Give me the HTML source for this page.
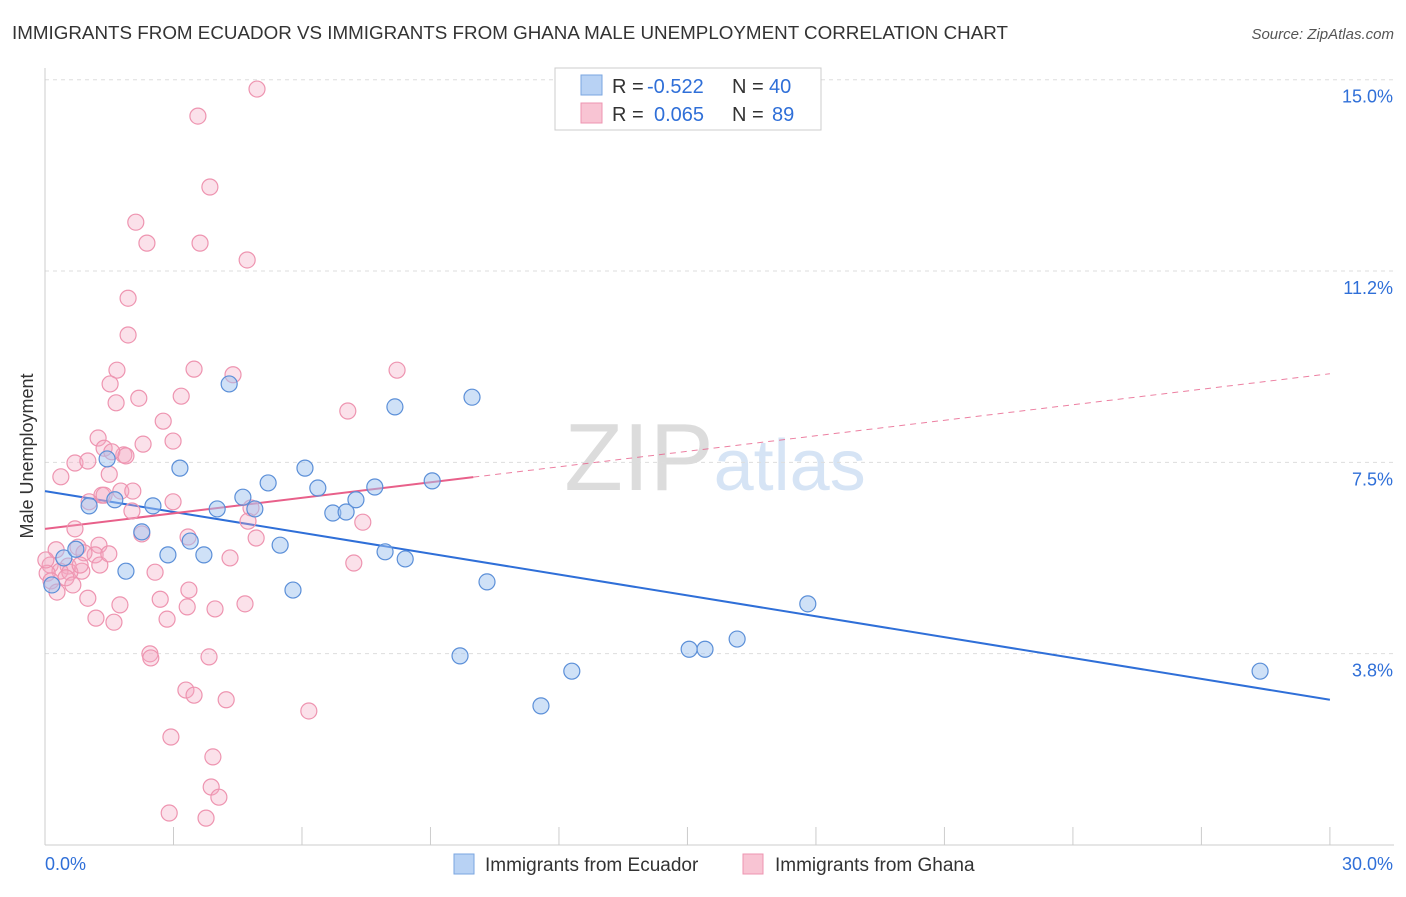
<!DOCTYPE html>
<html><head><meta charset="utf-8"><style>
body{margin:0;background:#fff;font-family:"Liberation Sans",sans-serif;}
svg text{font-family:"Liberation Sans",sans-serif;}
</style></head><body>
<svg id="chart" width="1406" height="892" xmlns="http://www.w3.org/2000/svg">
<text x="12" y="39" font-size="18" fill="#333" textLength="996" lengthAdjust="spacingAndGlyphs">IMMIGRANTS FROM ECUADOR VS IMMIGRANTS FROM GHANA MALE UNEMPLOYMENT CORRELATION CHART</text>
<text x="1394" y="39" font-size="15" fill="#555" text-anchor="end" font-style="italic">Source: ZipAtlas.com</text>
<text x="715" y="490" font-size="96" text-anchor="middle" fill="#e0e0e0" font-family="Liberation Serif"><tspan fill="#dcdcdc">ZIP</tspan><tspan fill="#d6e4f5" font-family="Liberation Sans" font-size="72">atlas</tspan></text>
<text transform="translate(33,456) rotate(-90)" font-size="18" fill="#333" text-anchor="middle">Male Unemployment</text>
<g id="grid"></g><g id="axes"></g><g id="lines"></g><g id="points"></g>
<g>
<rect x="555" y="68" width="266" height="62" fill="#fff" stroke="#ccc"/>
<rect x="581" y="75" width="21" height="20" fill="#b8d2f4" stroke="#7aa6e0"/>
<rect x="581" y="103" width="21" height="20" fill="#f8c4d3" stroke="#ee94b0"/>
<text x="612" y="93" font-size="20" fill="#333">R =</text>
<text x="647" y="93" font-size="20" fill="#2f6fd8">-0.522</text>
<text x="732" y="93" font-size="20" fill="#333">N =</text>
<text x="769" y="93" font-size="20" fill="#2f6fd8">40</text>
<text x="612" y="121" font-size="20" fill="#333">R =</text>
<text x="654" y="121" font-size="20" fill="#2f6fd8">0.065</text>
<text x="732" y="121" font-size="20" fill="#333">N =</text>
<text x="772" y="121" font-size="20" fill="#2f6fd8">89</text>
</g>
<g>
<rect x="454" y="854" width="20" height="20" fill="#b8d2f4" stroke="#7aa6e0"/>
<text x="485" y="871" font-size="19" fill="#333">Immigrants from Ecuador</text>
<rect x="743" y="854" width="20" height="20" fill="#f8c4d3" stroke="#ee94b0"/>
<text x="775" y="871" font-size="19" fill="#333">Immigrants from Ghana</text>
</g>
</svg>
<script>
const yTicks=[15,11.25,7.5,3.75];
const yTickLabels=["15.0%","11.2%","7.5%","3.8%"];
const xTickVals=[0,3,6,9,12,15,18,21,24,27,30];
const ecuadorX=[.16,.44,.72,1.03,1.45,1.63,1.89,2.26,2.52,2.87,3.15,3.39,3.71,4.02,4.30,4.62,4.90,5.21,5.49,5.79,6.07,6.37,6.72,7.03,7.26,7.70,7.94,8.17,8.41,9.04,9.69,9.97,10.32,11.58,12.30,15.04,15.41,16.16,17.81,28.37];
const ecuadorY=[5.43,5.96,6.13,6.98,7.90,7.10,5.70,6.47,6.98,6.02,7.72,6.29,6.02,6.92,9.37,7.15,6.92,7.43,6.21,5.33,7.72,7.33,6.84,6.86,7.10,7.35,6.08,8.92,5.94,7.47,4.04,9.11,5.49,3.06,3.74,4.17,4.17,4.37,5.06,3.74];
const ghanaX=[4.95,3.57,3.85,2.12,2.38,3.62,4.72,1.94,1.94,1.68,3.48,4.39,8.22,1.52,2.19,3.18,1.66,7.07,2.76,1.24,2.99,2.29,1.38,1.84,.70,1.00,1.56,1.89,.37,1.77,2.05,1.33,1.03,2.99,2.03,4.81,4.74,7.42,.70,2.26,3.34,4.93,1.26,.77,.26,1.17,.91,4.32,7.21,.12,.54,1.28,2.57,.35,.86,.58,.05,.49,.14,.65,.28,3.36,1.00,2.69,1.75,4.67,3.32,3.97,1.19,2.85,1.61,2.45,2.47,3.83,3.29,3.48,4.23,6.16,2.94,3.92,3.88,4.06,2.90,3.76,1.38,1.49,.82,.02,1.5];
const ghanaY=[15.15,14.62,13.23,12.54,12.13,12.13,11.80,11.05,10.33,9.64,9.66,9.55,9.64,9.37,9.09,9.13,9.00,8.84,8.64,8.31,8.25,8.19,8.11,7.98,7.82,7.86,8.04,7.96,7.55,7.27,7.27,7.19,7.06,7.06,6.88,6.94,6.68,6.66,6.53,6.43,6.37,6.35,6.21,6.17,6.12,6.02,6.06,5.96,5.86,5.82,5.80,5.82,5.68,5.70,5.70,5.68,5.66,5.57,5.51,5.43,5.29,5.33,5.17,5.15,5.04,5.06,5.00,4.96,4.78,4.76,4.70,4.08,4.00,4.02,3.37,3.27,3.18,2.96,2.45,2.06,1.47,1.27,.96,.86,7.19,6.04,5.82,5.92,7.6];
const ecuadorTrend=[7.27,3.18]; // value at x=0 and x=30
const ghanaTrend=[6.53,9.57];
const ghanaSolidEnd=10;
const X=v=>45+v*42.83, Y=v=>862-v*51.02;
const NS="http://www.w3.org/2000/svg";
function mk(parent,tag,attrs){const e=document.createElementNS(NS,tag);for(const k in attrs)e.setAttribute(k,attrs[k]);document.getElementById(parent).appendChild(e);return e;}
yTicks.forEach((t,i)=>{
 const g=mk('grid','line',{x1:45,x2:1394,y1:Y(t)-17,y2:Y(t)-17,stroke:'#ddd','stroke-dasharray':'4,4'});
 
 
 const l=mk('axes','text',{x:1393,y:Y(t)+6,'font-size':18,fill:'#2f6fd8','text-anchor':'end'});l.textContent=yTickLabels[i];
 
 
});
let ax=mk('axes','line',{x1:45,x2:45,y1:68,y2:845,stroke:'#ccc'});


ax=mk('axes','line',{x1:45,x2:1394,y1:845,y2:845,stroke:'#ccc'});


xTickVals.forEach(t=>{const e=mk('axes','line',{x1:X(t),x2:X(t),y1:827,y2:845,stroke:'#ccc'});
 
 });
let t0=mk('axes','text',{x:45,y:870,'font-size':18,fill:'#2f6fd8'});t0.textContent='0.0%';


t0=mk('axes','text',{x:1393,y:870,'font-size':18,fill:'#2f6fd8','text-anchor':'end'});t0.textContent='30.0%';


ghanaX.forEach((x,i)=>{const c=mk('points','circle',{cx:X(x),cy:Y(ghanaY[i]),r:8,fill:'rgba(244,170,195,0.35)',stroke:'#ee94b0','stroke-width':1.2});
 
 });
ecuadorX.forEach((x,i)=>{const c=mk('points','circle',{cx:X(x),cy:Y(ecuadorY[i]),r:8,fill:'rgba(160,196,240,0.5)',stroke:'#5b8fd8','stroke-width':1.2});
 
 });
const gAt=x=>ghanaTrend[0]+(ghanaTrend[1]-ghanaTrend[0])*x/30;
let ln=mk('lines','line',{x1:X(0),y1:Y(ecuadorTrend[0]),x2:X(30),y2:Y(ecuadorTrend[1]),stroke:'#2f6fd8','stroke-width':2});


ln=mk('lines','line',{x1:X(0),y1:Y(gAt(0)),x2:X(ghanaSolidEnd),y2:Y(gAt(ghanaSolidEnd)),stroke:'#e8608a','stroke-width':2});


ln=mk('lines','line',{x1:X(ghanaSolidEnd),y1:Y(gAt(ghanaSolidEnd)),x2:X(30),y2:Y(gAt(30)),stroke:'#e8608a','stroke-width':1,'stroke-dasharray':'6,5',opacity:0.8});


</script>
</body></html>
